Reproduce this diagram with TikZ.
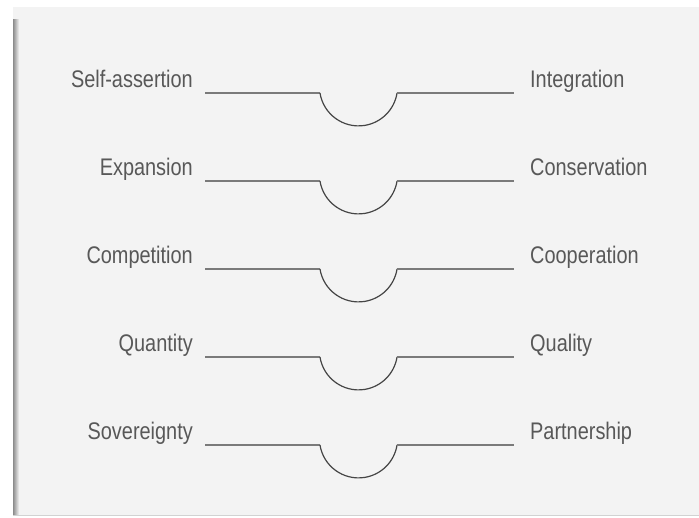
\documentclass[tikz,border=0pt]{standalone}
\usepackage{fontspec}
\setmainfont[FakeStretch=0.83]{Liberation Sans}
\usepackage{tikz}
\usetikzlibrary{positioning}
\definecolor{panelgray}{HTML}{F3F3F3}
\definecolor{edgegray}{HTML}{8C8C8C}
\definecolor{labelgray}{HTML}{585858}
\definecolor{linegray}{HTML}{7A7A7A}
\definecolor{arcgray}{HTML}{454545}
\tikzset{
label/.style={text=labelgray, font=\fontsize{24}{28}\selectfont, inner sep=0pt, text depth=0pt}, % the pole names
pole/.style={draw=linegray, line width=1.1pt}, % straight parts
dip/.style={draw=arcgray, line width=1.2pt}, % the cup in the middle
}

\begin{document}
\begin{tikzpicture}[x=1pt, y=1pt]
                \useasboundingbox (0,0) rectangle (699,517);
                % panel with its shadow
                \fill[panelgray] (13,2) rectangle (699,510);
                \shade[left color=edgegray, right color=panelgray] (13,2) rectangle (19,497);
                \fill[gray!35] (13,1) rectangle (699,2.5);
                \foreach \lname/\rname [count=\i] in {Self-assertion/Integration, Expansion/Conservation, Competition/Cooperation, Quantity/Quality, Sovereignty/Partnership}{
                    \coordinate (l\i) at (205, 512-88*\i);
                    \coordinate (a\i) at (320, 512-88*\i);
                    \coordinate (b\i) at (397, 512-88*\i);
                    \coordinate (r\i) at (514, 512-88*\i);
                    \node[label, above left=5pt and 12pt of l\i] (left\i) {\lname};
                    \node[label, above right=5pt and 16pt of r\i] (right\i) {\rname};
                    \draw[pole] (l\i) -- (a\i);
                    \draw[dip] (a\i) arc[start angle=189, end angle=351, radius=39];
                    \draw[pole] (b\i) -- (r\i);
                }
                \end{tikzpicture}
\end{document}
